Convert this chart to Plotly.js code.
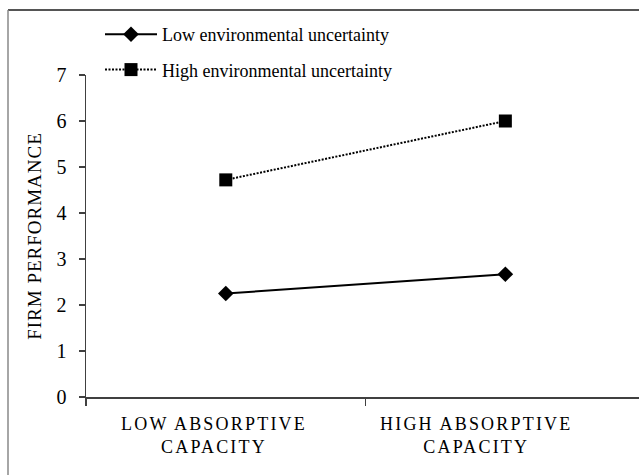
<!DOCTYPE html>
<html>
<head>
<meta charset="utf-8">
<script src="https://cdn.plot.ly/plotly-3.0.1.min.js"></script>
<style>
  html, body { margin: 0; padding: 0; background: #fff; }
  #chart { width: 639px; height: 475px; }
  .ytitle { letter-spacing: 1px; }
  .annotation-text { letter-spacing: 2.2px; }
</style>
</head>
<body>
<div id="chart"></div>
<script>
const categories = ["LOW ABSORPTIVE<br>CAPACITY", "HIGH ABSORPTIVE<br>CAPACITY"];
const lowUncertainty = [2.25, 2.67];
const highUncertainty = [4.72, 6.0];
const seriesNames = ["Low environmental uncertainty", "High environmental uncertainty"];
const yTicks = [0, 1, 2, 3, 4, 5, 6, 7];
const labelShifts = [-12, -29];

const font = "'Times New Roman', 'Liberation Serif', 'DejaVu Serif', serif";

const traces = [
  {
    x: categories, y: lowUncertainty, name: seriesNames[0], type: "scatter", mode: "lines+markers",
    line: { color: "#000", width: 2 },
    marker: { symbol: "diamond", size: 12, color: "#000" },
    legendgroup: "a"
  },
  {
    x: categories, y: highUncertainty, name: seriesNames[1], type: "scatter", mode: "lines+markers",
    line: { color: "#000", width: 2, dash: "2px,1.5px" },
    marker: { symbol: "square", size: 13, color: "#000" },
    legendgroup: "b"
  }
];

const H = 475, T = 75, B = 78, L = 86, W = 639;
const ph = H - T - B, pw = W - L;
const py = (p) => (H - B - p) / ph;
const px = (p) => (p - L) / pw;

const layout = {
  width: W, height: H,
  margin: { l: L, r: 0, t: T, b: B, pad: 0 },
  paper_bgcolor: "#fff", plot_bgcolor: "#fff",
  font: { family: font, color: "#000" },
  showlegend: true,
  legend: {
    x: px(100), y: py(16), xanchor: "left", yanchor: "top",
    font: { family: font, size: 18, color: "#000" },
    bgcolor: "rgba(0,0,0,0)", itemwidth: 52,
    traceorder: "grouped", tracegroupgap: 9
  },
  xaxis: {
    type: "category", range: [-0.5, 1.478],
    showgrid: false, zeroline: false,
    showline: true, linecolor: "#404040", linewidth: 1.5,
    ticks: "outside", tickson: "boundaries", ticklen: 7, tickcolor: "#404040", tickwidth: 1.5,
    showticklabels: false, fixedrange: true
  },
  yaxis: {
    range: [0, 7], tickvals: yTicks, ticktext: yTicks.map(String),
    showgrid: false, zeroline: false,
    showline: true, linecolor: "#404040", linewidth: 1.5,
    ticks: "outside", ticklen: 6, tickcolor: "#404040", tickwidth: 1.5,
    tickfont: { family: font, size: 20, color: "#000" },
    ticklabelstandoff: 8,
    title: { text: "FIRM PERFORMANCE", font: { family: font, size: 19, color: "#000" }, standoff: 10 },
    fixedrange: true
  },
  annotations: categories.map((c, i) => ({
    x: c, xref: "x", y: 0, yref: "paper", yanchor: "top", xanchor: "center",
    yshift: -15, xshift: labelShifts[i],
    text: c, showarrow: false, align: "center",
    font: { family: font, size: 18, color: "#000" }
  })),
  shapes: [
    { type: "line", xref: "paper", yref: "paper", x0: px(8), x1: px(W + 5), y0: py(10), y1: py(10), line: { color: "#555", width: 2 } },
    { type: "line", xref: "paper", yref: "paper", x0: px(8), x1: px(8), y0: py(10), y1: py(H + 5), line: { color: "#888", width: 1.5 } }
  ]
};

Plotly.newPlot("chart", traces, layout, { displayModeBar: false, staticPlot: true });
</script>
</body>
</html>
